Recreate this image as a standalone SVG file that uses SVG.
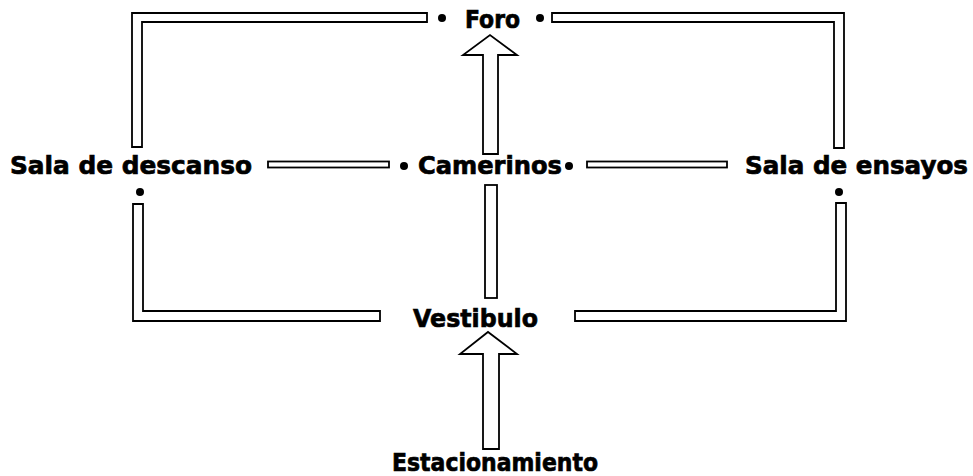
<svg xmlns="http://www.w3.org/2000/svg" width="973" height="476" viewBox="0 0 973 476">
<style>
  .lbl { font-family: "DejaVu Sans", "Liberation Sans", sans-serif; font-weight: bold; font-size: 25px; fill: #000; stroke: #000; stroke-width: 0.7; }
  .wall { fill: #fff; stroke: #000; stroke-width: 1.8; stroke-linejoin: miter; }
  .dot { fill: #000; }
</style>
<rect width="973" height="476" fill="#fff"/>
<g id="connectors">
  <polygon class="wall" points="132,147 132,13 427,13 427,22 142,22 142,147"/>
  <polygon class="wall" points="552,13 844,13 844,148 834,148 834,22 552,22"/>
  <polygon class="wall" points="133,204 143,204 143,311 380,311 380,321 133,321"/>
  <polygon class="wall" points="575,311 836,311 836,203 846,203 846,321 575,321"/>
  <rect class="wall" x="268" y="161.5" width="121" height="6"/>
  <rect class="wall" x="587" y="161.5" width="140" height="6"/>
  <rect class="wall" x="485" y="185" width="12" height="113"/>
  <polygon class="wall" points="483,154 483,55 463,55 490,35 517,55 498,55 498,154"/>
  <polygon class="wall" points="483,449 483,354 460,354 488,332 517,354 499,354 499,449"/>
</g>
<g id="foro">
  <circle class="dot" cx="442" cy="18" r="4"/>
  <text class="lbl" x="465" y="28" textLength="55" lengthAdjust="spacingAndGlyphs">Foro</text>
  <circle class="dot" cx="540" cy="18" r="4"/>
</g>
<g id="sala-descanso">
  <text class="lbl" x="10" y="174" textLength="242" lengthAdjust="spacingAndGlyphs">Sala de descanso</text>
  <circle class="dot" cx="140" cy="192" r="4"/>
</g>
<g id="camerinos">
  <circle class="dot" cx="404" cy="166" r="4"/>
  <text class="lbl" x="418" y="174" textLength="144" lengthAdjust="spacingAndGlyphs">Camerinos</text>
  <circle class="dot" cx="569" cy="166" r="4"/>
</g>
<g id="sala-ensayos">
  <text class="lbl" x="745" y="174" textLength="223" lengthAdjust="spacingAndGlyphs">Sala de ensayos</text>
  <circle class="dot" cx="839" cy="192" r="4"/>
</g>
<g id="vestibulo">
  <text class="lbl" x="413" y="327" textLength="125" lengthAdjust="spacingAndGlyphs">Vestibulo</text>
</g>
<g id="estacionamiento">
  <text class="lbl" x="392" y="471" textLength="206" lengthAdjust="spacingAndGlyphs">Estacionamiento</text>
</g>
</svg>
